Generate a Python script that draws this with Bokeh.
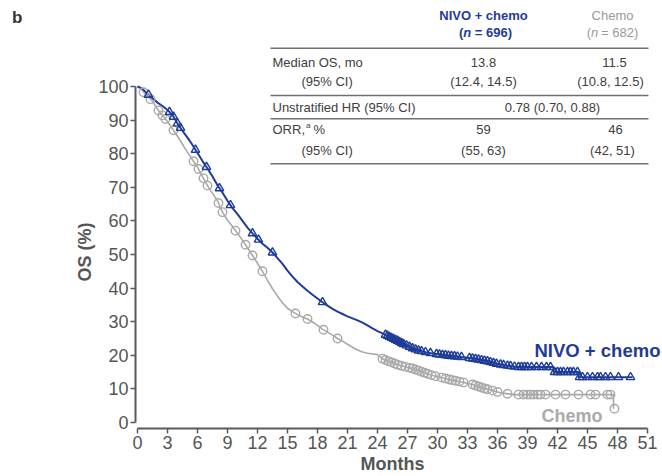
import numpy as np
from bokeh.plotting import figure
from bokeh.layouts import row
from bokeh.models import FixedTicker, Title, Div
from bokeh.core.properties import value
from bokeh.embed import file_html
from bokeh.resources import INLINE

# ---------------- data ----------------
nivo_t = [0, 0.5, 1.0, 1.5, 2.0, 2.5, 3.0, 3.5, 4.0, 4.5, 5.0, 5.5, 6.0, 6.5, 7.0, 7.5,
          8.0, 8.5, 9.0, 9.5, 10.0, 10.5, 11.0, 11.5, 12.0, 12.5, 13.0, 13.5, 14.0, 14.5,
          15.0, 15.5, 16.0, 16.5, 17.0, 17.5, 18.0, 18.5, 19.0, 19.5, 20.0, 20.5, 21.0,
          21.5, 22.0, 22.5, 23.0, 23.5, 24.0, 24.5, 25.0, 25.5, 26.0, 26.5, 27.0, 27.5,
          28.0, 29.0, 30.0, 31.0, 32.0, 33.0, 34.0, 35.0, 36.0, 37.0, 38.0, 41.6, 41.6,
          44.1, 44.1, 49.5]
nivo_s = [100, 99.3, 97.8, 96.5, 95.2, 94.2, 93.0, 91.5, 89.0, 86.8, 84.8, 82.6, 80.2, 77.8,
          75.6, 73.2, 70.6, 68.4, 66.0, 63.8, 62.0, 60.0, 58.0, 56.3, 54.7, 53.2, 52.0, 50.6,
          48.9, 47.2, 45.2, 43.4, 41.8, 40.5, 39.2, 38.0, 36.9, 35.8, 34.8, 33.8, 33.0, 32.3,
          31.6, 31.0, 30.4, 29.7, 28.9, 28.0, 27.2, 26.5, 25.8, 25.0, 24.3, 23.5, 22.8, 22.1,
          21.5, 20.8, 20.3, 19.9, 19.6, 19.3, 18.8, 18.2, 17.4, 16.9, 16.5, 16.5, 15.0,
          15.0, 13.5, 13.5]
chemo_t = [0, 0.3, 0.6, 1.0, 1.5, 2.0, 2.5, 3.0, 3.5, 4.0, 4.5, 5.0, 5.5, 6.0, 6.5, 7.0, 7.5,
           8.0, 8.5, 9.0, 9.5, 10.0, 10.5, 11.0, 11.5, 12.0, 12.5, 13.0, 13.5, 14.0, 14.5,
           15.0, 15.5, 16.0, 16.5, 17.0, 17.5, 18.0, 18.5, 19.0, 19.5, 20.0, 20.5, 21.0,
           21.5, 22.0, 22.5, 23.0, 24.0, 24.5, 25.0, 25.5, 26.0, 27.0, 27.6, 28.5, 29.5,
           30.5, 31.5, 32.5, 33.5, 34.5, 35.5, 36.2, 37.6, 47.6, 47.6]
chemo_s = [100, 99.8, 98.3, 97.2, 95.6, 93.2, 91.4, 89.6, 87.4, 85.2, 82.8, 80.4, 78.2, 76.0,
           73.2, 70.5, 68.2, 66.0, 62.6, 60.2, 58.3, 56.3, 54.2, 52.0, 49.7, 47.4, 45.0, 42.3,
           39.8, 37.6, 35.6, 34.0, 33.0, 32.1, 31.4, 30.8, 29.9, 28.9, 27.8, 26.9, 26.0, 25.0,
           24.2, 23.3, 22.4, 21.6, 21.0, 20.6, 20.2, 19.0, 18.3, 17.8, 17.2, 16.4, 16.0, 15.0,
           14.0, 13.3, 12.6, 12.0, 11.3, 10.3, 9.5, 8.9, 8.3, 8.3, 4.1]
nivo_cens = [1.1, 3.2, 3.6, 4.0, 4.3, 5.8, 6.9, 8.2, 9.3, 11.5, 12.1, 13.5, 18.5,
             24.8, 25.0, 25.2, 25.4, 25.6, 25.8, 26.0, 26.2, 26.4, 26.6, 26.9, 27.2, 27.5,
             27.8, 28.1, 28.4, 28.8, 29.3, 29.9, 30.2, 30.5, 30.8, 31.1, 31.4, 31.7, 32.0,
             32.4, 33.2, 33.5, 33.8, 34.1, 34.4, 34.7, 35.0, 35.3, 35.6, 35.9, 36.3, 36.6,
             37.0, 37.3, 37.7, 38.1, 38.4, 38.7, 39.0, 39.4, 39.9, 40.4, 40.9, 41.3, 41.7,
             42.0, 42.3, 42.6, 43.0, 43.3, 43.6, 44.0, 44.2, 44.5, 45.0, 45.5, 46.0, 46.3,
             46.8, 47.3, 48.1, 49.3]
chemo_cens = [0.6, 1.3, 2.1, 2.5, 2.8, 3.6, 5.6, 6.1, 6.6, 7.0, 8.1, 8.5, 9.8, 10.8, 11.5,
              12.5, 15.8, 17.0, 18.6, 20.0, 24.5, 24.8, 25.1, 25.4, 25.7, 26.0, 26.4, 26.8,
              27.2, 27.5, 27.8, 28.1, 28.4, 28.7, 29.0, 29.4, 29.8, 30.4, 30.8, 31.2, 31.5,
              31.8, 32.2, 32.6, 33.5, 33.8, 34.1, 34.4, 34.7, 35.0, 35.5, 36.0, 37.0, 38.1,
              38.6, 39.0, 39.3, 39.6, 40.0, 40.3, 40.8, 41.8, 42.8, 44.1, 45.3, 45.8, 47.0,
              47.3, 47.7]
x_ticks = list(range(0, 52, 3))
y_ticks = list(range(0, 101, 10))

BLUE = "#1f3c98"
GREY = "#a9a9a9"
AX = "#5a5a5a"
TXT = "#404040"
FONT = "Liberation Sans"

# ---------------- layout (page pixel -> data) ----------------
W, H = 662, 476
LEFT_DIV = 30               # width of the panel letter column
FL, FB = 135, 428           # frame left / bottom in page px
X0, XS = 137, 10.0          # px of month 0, px per month
Y0, YS = 422, 3.36          # px of 0 %, px per %


def dx(px):
    return (px - X0) / XS


def dy(py):
    return (Y0 - py) / YS


p = figure(width=W - LEFT_DIV, height=H, output_backend="svg", toolbar_location=None,
           x_range=(dx(FL), dx(W)), y_range=(dy(FB), dy(0)),
           min_border_left=FL - LEFT_DIV, min_border_right=0, min_border_top=0,
           min_border_bottom=H - FB)
p.outline_line_color = None
p.grid.visible = False
p.background_fill_color = "white"
p.border_fill_color = "white"

for ax, ticks, bounds in ((p.xaxis[0], x_ticks, (0, 51)), (p.yaxis[0], y_ticks, (0, 100))):
    ax.ticker = FixedTicker(ticks=ticks)
    ax.bounds = bounds
    ax.axis_line_color = AX
    ax.axis_line_width = 2
    ax.major_tick_line_color = AX
    ax.major_tick_line_width = 1.5
    ax.major_tick_out = 5
    ax.major_tick_in = 0
    ax.minor_tick_line_color = None
    ax.major_label_text_font = FONT
    ax.major_label_text_font_size = "18px"
    ax.major_label_text_color = "#555555"
p.yaxis[0].major_label_standoff = 2
p.xaxis[0].major_label_standoff = 2

p.add_layout(Title(text="OS (%)", align="left", offset=147, standoff=2,
                   text_font=FONT, text_font_size="18px", text_font_style="bold",
                   text_color="#555555"), "left")
p.add_layout(Title(text="Months", align="left", offset=225, standoff=0,
                   text_font=FONT, text_font_size="18px", text_font_style="bold",
                   text_color="#555555"), "below")

# ---------------- curves ----------------
p.line(chemo_t, chemo_s, line_color=GREY, line_width=1.6)
p.line(nivo_t, nivo_s, line_color=BLUE, line_width=2)
cy = np.interp(chemo_cens, chemo_t, chemo_s)
ny = np.interp(nivo_cens, nivo_t, nivo_s)
p.scatter(chemo_cens, cy, marker="circle", size=8.5, fill_color=None,
          line_color=GREY, line_width=1.4)
p.scatter(nivo_cens, ny, marker="triangle", size=8.5, fill_color=None,
          line_color=BLUE, line_width=1.4)

# ---------------- curve labels ----------------
p.text([dx(534)], [dy(350)], text=["NIVO + chemo"], text_font=value(FONT),
       text_font_style="bold", text_font_size="18.5px", text_color=BLUE,
       text_baseline="middle", text_align="left")
p.text([dx(541)], [dy(415)], text=["Chemo"], text_font=value(FONT),
       text_font_style="bold", text_font_size="18px", text_color="#aaaaaa",
       text_baseline="middle", text_align="left")

# ---------------- table ----------------
rule_y = [47.7, 95, 118.3, 163.3]
p.segment(x0=[dx(270)] * 4, x1=[dx(648)] * 4, y0=[dy(v) for v in rule_y],
          y1=[dy(v) for v in rule_y], line_color="#707070", line_width=1.6)


def txt(px, py, s, color=TXT, style="normal", size="13px", align="left"):
    p.text([dx(px)], [dy(py)], text=[s], text_font=value(FONT), text_font_style=style,
           text_font_size=size, text_color=color, text_baseline="middle",
           text_align=align)


txt(483, 15, "NIVO + chemo", BLUE, "bold", align="center")
txt(462.8, 32, "(", BLUE, "bold", align="right")
txt(462.8, 32, "n", BLUE, "bold italic")
txt(474.3, 32, "= 696)", BLUE, "bold")
txt(612, 15, "Chemo", "#9a9a9a", align="center")
txt(590.5, 32, "(", "#9a9a9a", align="right")
txt(590.5, 32, "n", "#9a9a9a", "italic")
txt(600.6, 32, "= 682)", "#9a9a9a")

txt(272, 62, "Median OS, mo")
txt(483, 62, "13.8", align="center")
txt(614, 62, "11.5", align="center")
txt(301, 81, "(95% CI)")
txt(483, 81, "(12.4, 14.5)", align="center")
txt(610, 81, "(10.8, 12.5)", align="center")
txt(272, 107, "Unstratified HR (95% CI)")
txt(552, 107, "0.78 (0.70, 0.88)", align="center")
txt(272, 129, "ORR,")
txt(305.5, 125, "a", size="8px")
txt(313, 129, "%")
txt(483, 129, "59", align="center")
txt(615, 129, "46", align="center")
txt(301, 150, "(95% CI)")
txt(483, 150, "(55, 63)", align="center")
txt(612, 150, "(42, 51)", align="center")

# ---------------- panel letter ----------------
letter = Div(text="b", width=LEFT_DIV, height=H, margin=0,
             styles={"font-family": FONT, "font-size": "17px", "font-weight": "bold",
                     "color": "#333333", "padding-left": "12px", "padding-top": "9px",
                     "line-height": "1", "box-sizing": "border-box"})

layout = row(letter, p, spacing=0)
open("out.html", "w").write(file_html(layout, INLINE))
